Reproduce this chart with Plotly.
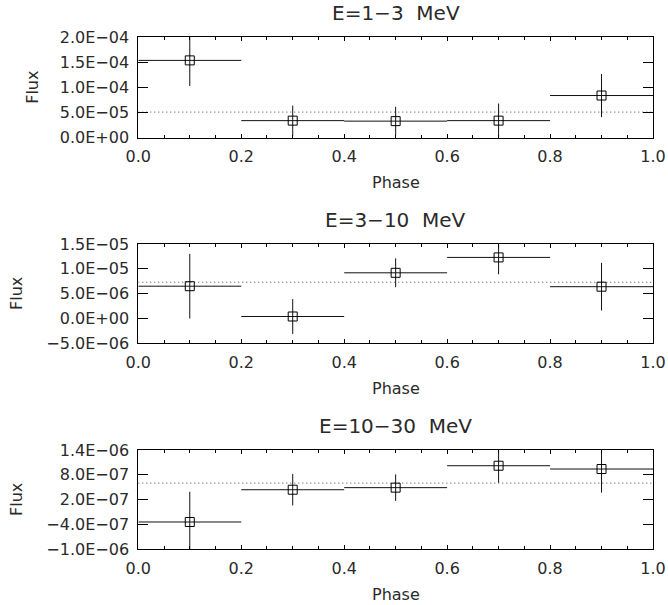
import plotly.graph_objects as go

# ---------------- data ----------------
phase = [0.1, 0.3, 0.5, 0.7, 0.9]
phase_halfwidth = [0.1, 0.1, 0.1, 0.1, 0.1]
mean_line_x = [0.0, 1.0]

titles = ["E=1\u22123\u00a0 MeV", "E=3\u221210\u00a0 MeV", "E=10\u221230\u00a0 MeV"]

flux_1_3 = [1.54e-4, 3.4e-5, 3.3e-5, 3.4e-5, 8.4e-5]
err_1_3 = [5.1e-5, 3.0e-5, 2.85e-5, 3.4e-5, 4.3e-5]
mean_1_3 = 5.1e-5
yrange_1_3 = [0.0, 2.0e-4]
ytickvals_1_3 = [0.0, 5.0e-5, 1.0e-4, 1.5e-4, 2.0e-4]
yticktext_1_3 = ["0.0E+00", "5.0E\u221205", "1.0E\u221204", "1.5E\u221204", "2.0E\u221204"]

flux_3_10 = [6.5e-6, 0.4e-6, 9.2e-6, 1.23e-5, 6.4e-6]
err_3_10 = [6.5e-6, 3.5e-6, 2.9e-6, 3.4e-6, 4.8e-6]
mean_3_10 = 7.3e-6
yrange_3_10 = [-5.0e-6, 1.5e-5]
ytickvals_3_10 = [-5.0e-6, 0.0, 5.0e-6, 1.0e-5, 1.5e-5]
yticktext_3_10 = ["\u22125.0E\u221206", "0.0E+00", "5.0E\u221206", "1.0E\u221205", "1.5E\u221205"]

flux_10_30 = [-3.4e-7, 4.4e-7, 4.9e-7, 1.02e-6, 9.4e-7]
err_10_30 = [7.3e-7, 3.8e-7, 3.2e-7, 4.1e-7, 5.7e-7]
mean_10_30 = 6.0e-7
yrange_10_30 = [-1.0e-6, 1.4e-6]
ytickvals_10_30 = [-1.0e-6, -4.0e-7, 2.0e-7, 8.0e-7, 1.4e-6]
yticktext_10_30 = ["\u22121.0E\u221206", "\u22124.0E\u221207", "2.0E\u221207", "8.0E\u221207", "1.4E\u221206"]

xtickvals = [0.0, 0.2, 0.4, 0.6, 0.8, 1.0]
xticktext = ["0.0", "0.2", "0.4", "0.6", "0.8", "1.0"]

# ---------------- layout constants ----------------
W, H = 668, 605
FONT = "DejaVu Sans"
TXT = "#2a2a2a"
x_dom = [138.3 / W, 653.0 / W]
y_doms = [
    [1 - 137.7 / H, 1 - 37.3 / H],
    [1 - 343.3 / H, 1 - 244.0 / H],
    [1 - 549.3 / H, 1 - 450.0 / H],
]
flux_shift = [-106, -122, -122]

panels = [
    (titles[0], flux_1_3, err_1_3, mean_1_3, yrange_1_3, ytickvals_1_3, yticktext_1_3),
    (titles[1], flux_3_10, err_3_10, mean_3_10, yrange_3_10, ytickvals_3_10, yticktext_3_10),
    (titles[2], flux_10_30, err_10_30, mean_10_30, yrange_10_30, ytickvals_10_30, yticktext_10_30),
]

fig = go.Figure()
annotations = []
for i, (title, flux, err, mean, yr, ytv, ytt) in enumerate(panels):
    suf = "" if i == 0 else str(i + 1)
    xa, ya = "x" + suf, "y" + suf
    fig.add_trace(go.Scatter(
        x=mean_line_x, y=[mean, mean], mode="lines",
        line=dict(color="#444444", width=1, dash="1px,3px"),
        xaxis=xa, yaxis=ya, showlegend=False, hoverinfo="skip"))
    fig.add_trace(go.Scatter(
        x=phase, y=flux, mode="markers",
        marker=dict(symbol="square-open", size=9, color="black", line=dict(width=1, color="black")),
        error_x=dict(type="data", array=phase_halfwidth, width=0, thickness=1, color="#111111"),
        error_y=dict(type="data", array=err, width=0, thickness=1, color="#111111"),
        xaxis=xa, yaxis=ya, showlegend=False))

    fig.layout["xaxis" + suf] = dict(
        domain=x_dom, anchor=ya, range=[0, 1], automargin=False,
        tickmode="array", tickvals=xtickvals, ticktext=xticktext,
        ticks="inside", ticklen=4, tickcolor="black", tickwidth=1,
        minor=dict(tickmode="linear", tick0=0, dtick=0.05, ticks="inside", ticklen=3,
                   tickcolor="black", showgrid=False),
        showline=True, linecolor="black", linewidth=1, mirror="allticks",
        showgrid=False, zeroline=False,
        tickfont=dict(family=FONT, size=16, color=TXT), ticklabelstandoff=4)
    fig.layout["yaxis" + suf] = dict(
        domain=y_doms[i], anchor=xa, range=yr, automargin=False,
        tickmode="array", tickvals=ytv, ticktext=ytt,
        ticks="inside", ticklen=10, tickcolor="black", tickwidth=1,
        showline=True, linecolor="black", linewidth=1, mirror="allticks",
        showgrid=False, zeroline=False,
        tickfont=dict(family=FONT, size=16, color=TXT), ticklabelstandoff=5)

    annotations.append(dict(text=title, xref=xa + " domain", yref=ya + " domain",
                            x=0.5, y=1, xanchor="center", yanchor="middle", yshift=24,
                            showarrow=False, font=dict(family=FONT, size=20, color=TXT)))
    annotations.append(dict(text="Phase", xref=xa + " domain", yref=ya + " domain",
                            x=0.5, y=0, xanchor="center", yanchor="middle", yshift=-45,
                            showarrow=False, font=dict(family=FONT, size=16, color=TXT)))
    annotations.append(dict(text="Flux", xref=xa + " domain", yref=ya + " domain",
                            x=0, y=0.5, xanchor="center", yanchor="middle", xshift=flux_shift[i],
                            textangle=-90, showarrow=False,
                            font=dict(family=FONT, size=16, color=TXT)))

fig.update_layout(
    width=W, height=H,
    margin=dict(l=0, r=0, t=0, b=0),
    paper_bgcolor="white", plot_bgcolor="white",
    annotations=annotations, showlegend=False)

fig.write_html("out.html",
               config={"displayModeBar": False},
               post_script="document.body.style.margin='0px';document.body.style.overflow='hidden';")
